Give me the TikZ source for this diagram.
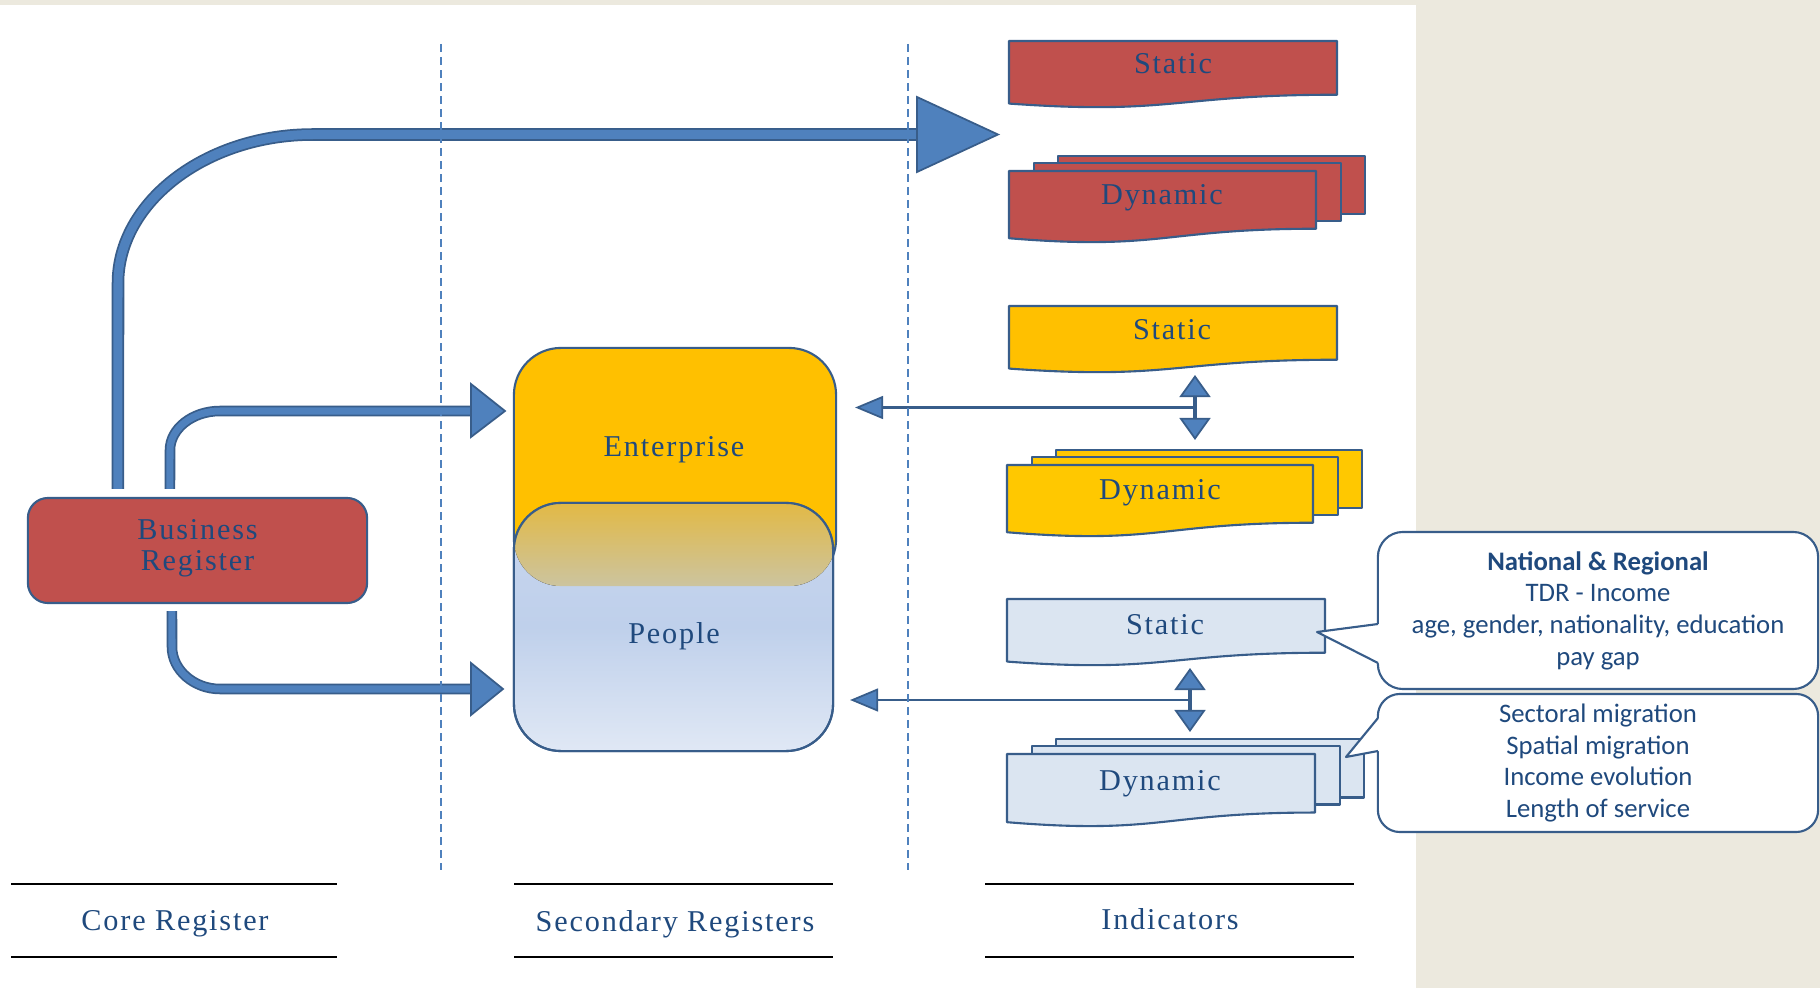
\documentclass[tikz,border=0pt]{standalone}
\usepackage{fontspec}
\setmainfont{Liberation Serif}[LetterSpace=6]
\newfontfamily\calib{Carlito}
\usetikzlibrary{arrows.meta}
\definecolor{redfill}{HTML}{C0504D}
\definecolor{yelfill}{HTML}{FFC000}
\definecolor{yeldyn}{HTML}{FFC800}
\definecolor{bluefill}{HTML}{DBE5F1}
\definecolor{edgecol}{HTML}{385D8A}
\definecolor{txtblue}{HTML}{1F497D}
\definecolor{arrowblue}{HTML}{4F81BD}
\definecolor{paper}{HTML}{ECE9DE}
\definecolor{pplTop}{HTML}{C8D6EE}
\definecolor{pplMid}{HTML}{BFD0EB}
\definecolor{pplBot}{HTML}{E0E8F5}
\definecolor{mixTop}{HTML}{E2B945}
\definecolor{mixBot}{HTML}{CCC49F}
\tikzset{
  flattip/.tip={Triangle[length=0.28cm,width=0.23cm,fill=arrowblue,line width=0.5pt]},
  dbltip/.tip={Triangle[length=0.22cm,width=0.31cm,fill=arrowblue,line width=0.5pt]}
}
% document page: style, x, y (top), width, height
\newcommand\docpage[5]{%
  \begin{scope}[shift={(#2,#3)}]
    \filldraw[#1] (0,0) -- (#4,0) -- (#4,{0.802*#5})
      .. controls ({0.5*#4},{0.802*#5}) and ({0.5*#4},{1.108*#5}) .. (0,{0.934*#5}) -- cycle;
  \end{scope}}
% stack of three pages
\newcommand\docstack[5]{%
  \begin{scope}[shift={(#2,#3)}]
    \filldraw[#1] (49,-15) rectangle ++(#4,{0.802*#5});
    \filldraw[#1] (25,-8) rectangle ++(#4,{0.802*#5});
  \end{scope}
  \docpage{#1}{#2}{#3}{#4}{#5}}
\begin{document}
\begin{tikzpicture}[x=0.01cm,y=-0.01cm, line join=round,
  lbl/.style={text=txtblue, font=\fontsize{8.6}{8.8}\selectfont, inner sep=0pt},
  note/.style={draw=edgecol, line width=0.6pt, fill=white, rounded corners=0.25cm, text=txtblue,
    align=center, font=\calib\fontsize{7.6}{9}\selectfont, minimum width=4.4cm, inner sep=0pt},
  regbox/.style={draw=edgecol, line width=0.6pt, inner sep=0pt, outer sep=0pt},
  docred/.style={fill=redfill, draw=edgecol, line width=0.6pt},
  docyel/.style={fill=yelfill, draw=edgecol, line width=0.6pt},
  docyeldyn/.style={fill=yeldyn, draw=edgecol, line width=0.6pt},
  docblue/.style={fill=bluefill, draw=edgecol, line width=0.6pt},
  tarrow/.style={draw=edgecol, line width=0.5pt, double=arrowblue, double distance=#1},
  thead/.style={fill=arrowblue, draw=edgecol, line width=0.5pt, line join=miter},
  conn/.style={draw=edgecol, line width=0.7pt, arrows=-flattip},
  dbl/.style={draw=edgecol, line width=0.9pt, arrows=dbltip-dbltip},
  divider/.style={arrowblue, line width=0.7pt, dash pattern=on 0.08cm off 0.05cm},
  rule/.style={black, line width=0.8pt}]
  \fill[paper] (0,0) rectangle (1820,988);
  \fill[white] (0,5) rectangle (1416,988);
  \useasboundingbox (0,0) rectangle (1820,988);

  % core register
  \node[regbox, lbl, align=center, fill=redfill, rounded corners=0.2cm,
    minimum width=3.39cm, minimum height=1.05cm] (br) at (197.5,550.5) {Business\\Register\\[-0.19cm]};

  % secondary registers
  \node[regbox, fill=yelfill, rounded corners=0.47cm, minimum width=3.22cm, minimum height=2.38cm] (ent) at (675,467) {};
  \node[regbox, top color=pplTop, bottom color=pplBot, middle color=pplMid, rounded corners=0.47cm,
    minimum width=3.19cm, minimum height=2.48cm] (ppl) at (673.5,627) {};
  \begin{scope}
    \clip[rounded corners=0.47cm] (ent.north west) rectangle (ent.south east);
    \clip[rounded corners=0.47cm] (ppl.north west) rectangle (ppl.south east);
    \fill[top color=mixTop, bottom color=mixBot] (ppl.north west) rectangle (ent.south east);
  \end{scope}
  \draw[edgecol, line width=0.6pt, rounded corners=0.47cm] (ppl.north west) rectangle (ppl.south east);
  \node[lbl, anchor=base] (entlbl) at (674,457) {Enterprise};
  \node[lbl, anchor=base] (ppllbl) at (674,643) {People};

  % indicators
  \docpage{docred}{1009}{41}{328}{67}
  \docstack{docred}{1009}{171}{307}{72}
  \docpage{docyel}{1009}{306}{328}{67}
  \docstack{docyeldyn}{1007}{465}{306}{72}
  \docpage{docblue}{1007}{599}{318}{67}
  \docstack{docblue}{1007}{754}{308}{73}
  \node[lbl, anchor=base] (rstat) at (1173,74) {Static};
  \node[lbl, anchor=base] (rdyn) at (1162,205) {Dynamic};
  \node[lbl, anchor=base] (ystat) at (1172,340) {Static};
  \node[lbl, anchor=base] (ydyn) at (1160,499) {Dynamic};
  \node[lbl, anchor=base] (bstat) at (1165,634) {Static};
  \node[lbl, anchor=base] (bdyn) at (1160,790) {Dynamic};

  % callouts
  \node[note, minimum height=1.57cm] (natreg) at (1598,610.5)
    {\textbf{National \& Regional}\\TDR - Income\\age, gender, nationality, education\\pay gap};
  \fill[white] (1317,632) -- (1376,624) -- (1382,624) -- (1382,663) -- (1376,663) -- cycle;
  \draw[edgecol, line width=0.6pt] (1378,624) -- (1317,632) -- (1378,663);
  \node[note, minimum height=1.38cm, rounded corners=0.22cm] (dynlist) at (1598,763)
    {Sectoral migration\\Spatial migration\\Income evolution\\Length of service};
  \fill[white] (1346,757) -- (1376,718) -- (1382,718) -- (1382,751) -- (1376,751) -- cycle;
  \draw[edgecol, line width=0.6pt] (1378,718) -- (1346,757) -- (1378,751);

  % thick arrows from the core register
  \draw[tarrow=0.09cm] ([xshift=-0.795cm,yshift=0.09cm]br.north) -- (118,283)
    .. controls (118,202) and (206,134.5) .. (313,134.5) -- (917,134.5);
  \filldraw[thead] (917,97) -- (998,134.5) -- (917,172) -- cycle;
  \draw[tarrow=0.07cm] ([xshift=-0.275cm,yshift=0.09cm]br.north) -- (170,450)
    .. controls (170,429) and (192,411) .. (220,411) -- (471,411);
  \filldraw[thead] (471,384) -- (505,411) -- (471,437) -- cycle;
  \draw[tarrow=0.07cm] ([xshift=-0.255cm,yshift=-0.08cm]br.south) -- (172,647)
    .. controls (172,670) and (194,689) .. (220,689) -- (471,689);
  \filldraw[thead] (471,663) -- (503,689) -- (471,715) -- cycle;

  % feedback from indicators
  \coordinate (ytop) at (1195,375);
  \coordinate (ybot) at (1195,440);
  \coordinate (yjoin) at (1195,407.5);
  \draw[dbl] (ytop) -- (ybot);
  \draw[conn, shorten >=0.19cm] (yjoin) -- (yjoin -| ent.east);
  \coordinate (btop) at (1190,668);
  \coordinate (bbot) at (1190,732);
  \coordinate (bjoin) at (1190,700);
  \draw[dbl] (btop) -- (bbot);
  \draw[conn, shorten >=0.17cm] (bjoin) -- (bjoin -| ppl.east);

  \draw[divider] (441,44) -- (441,870);
  \draw[divider] (908,44) -- (908,870);

  % column titles
  \foreach \xa/\xb in {11/337, 514/833, 985/1354} {
    \draw[rule] (\xa,884) -- (\xb,884);
    \draw[rule] (\xa,957) -- (\xb,957);
  }
  \node[lbl, anchor=base] (corelbl) at (175,930) {Core Register};
  \node[lbl, anchor=base] (seclbl) at (675,931) {Secondary Registers};
  \node[lbl, anchor=base] (indlbl) at (1170,929) {Indicators};
\end{tikzpicture}
\end{document}
